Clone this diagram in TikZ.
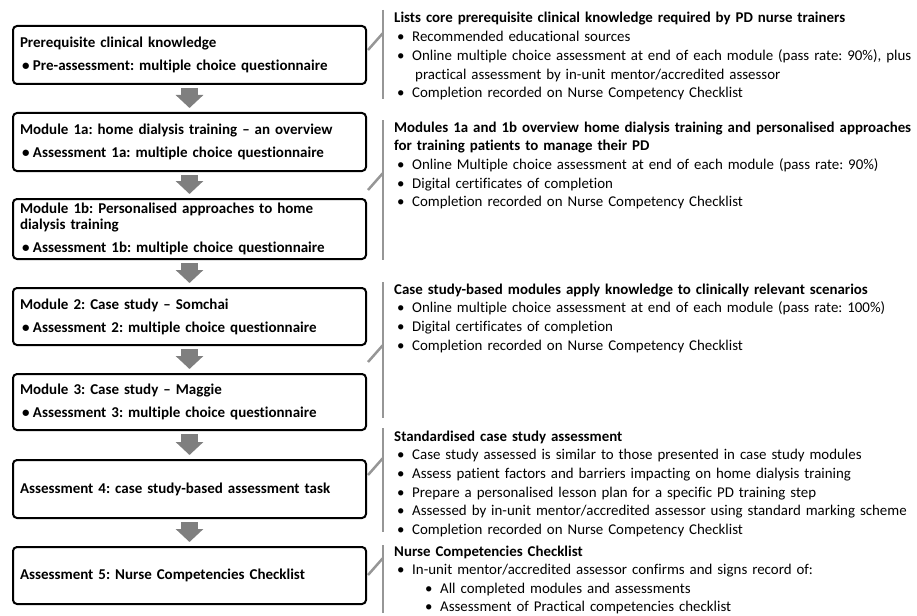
\documentclass[tikz,border=0pt]{standalone}
\usepackage{fontspec}
\setmainfont{Carlito}[Ligatures={TeX,NoCommon}]
\usetikzlibrary{arrows.meta}
\frenchspacing
\definecolor{arrowgrey}{RGB}{127,127,127}
\definecolor{bracketgrey}{RGB}{150,150,150}
\tikzset{
  stagebox/.style={draw, line width=2pt, rounded corners=4pt, anchor=north west,
    minimum width=353pt, text width=339pt, inner xsep=7pt, inner ysep=0pt,
    align=left, font=\fontsize{15}{16.5}\selectfont\bfseries},
  flowarrow/.style={arrowgrey, line width=17pt,
    -{Triangle[width=27pt,length=13pt]}, shorten <=3pt, shorten >=4pt},
  bracketline/.style={bracketgrey, line width=2.5pt},
  notetext/.style={anchor=base west, inner sep=0pt, text width=540pt,
    align=left, font=\fontsize{14.9}{18.7}\selectfont},
}
\newcommand{\boxbul}{\hspace*{2pt}\makebox[11pt][l]{•}}
\newcommand{\notebul}{\hspace*{3pt}\makebox[15pt][l]{•}}
\newcommand{\subbul}{\hspace*{31pt}\makebox[15pt][l]{•}}
\begin{document}
\begin{tikzpicture}[x=1pt,y=-1pt]
  \useasboundingbox (0,0) rectangle (917,615);
  %% stages
  \node[stagebox, minimum height=58pt] (prereq) at (12,25)
    {Prerequisite clinical knowledge\\[6.5pt]\boxbul Pre-assessment: multiple choice questionnaire};
  \node[stagebox, minimum height=58pt] (mod1a) at (12,112)
    {Module 1a: home dialysis training – an overview\\[6.5pt]\boxbul Assessment 1a: multiple choice questionnaire};
  \node[stagebox, minimum height=60pt] (mod1b) at (12,198)
    {Module 1b: Personalised approaches to home\\dialysis training\\[6.5pt]\boxbul Assessment 1b: multiple choice questionnaire};
  \node[stagebox, minimum height=57pt] (mod2) at (12,287)
    {Module 2: Case study – Somchai\\[6.5pt]\boxbul Assessment 2: multiple choice questionnaire};
  \node[stagebox, minimum height=56pt] (mod3) at (12,373)
    {Module 3: Case study – Maggie\\[6.5pt]\boxbul Assessment 3: multiple choice questionnaire};
  \node[stagebox, minimum height=58pt] (assess4) at (12,459)
    {Assessment 4: case study-based assessment task};
  \node[stagebox, minimum height=57pt] (assess5) at (12,546)
    {Assessment 5: Nurse Competencies Checklist};
  %% arrows down
  \foreach \a/\b in {prereq/mod1a, mod1a/mod1b, mod1b/mod2, mod2/mod3, mod3/assess4, assess4/assess5}
    \draw[flowarrow] (\a) -- (\b);
  %% brackets
  \foreach \i/\top/\bot/\foot in {1/10/99/50, 2/120/260/190, 3/282/418/362, 4/428/532/475, 5/545/613/575}{
    \coordinate (btop\i) at (383,\top);
    \coordinate (bbot\i) at (383,\bot);
    \coordinate (bfoot\i) at (368,\foot);
    \coordinate (bjoin\i) at (383,\foot-17);
    \draw[bracketline] (btop\i) -- (bbot\i);
    \draw[bracketline] (bfoot\i) -- (bjoin\i);
  }
  %% notes
  \node[notetext] (note1) at (394,23)
    {\textbf{Lists core prerequisite clinical knowledge required by PD nurse trainers}\\
     \notebul Recommended educational sources\\
     \notebul Online multiple choice assessment at end of each module (pass rate: 90\%), plus\\
     \hspace*{21pt}practical assessment by in-unit mentor/accredited assessor\\
     \notebul Completion recorded on Nurse Competency Checklist};
  \node[notetext] (note2) at (394,132)
    {\textbf{Modules 1a and 1b overview home dialysis training and personalised approaches}\\
     \textbf{for training patients to manage their PD}\\
     \notebul Online Multiple choice assessment at end of each module (pass rate: 90\%)\\
     \notebul Digital certificates of completion\\
     \notebul Completion recorded on Nurse Competency Checklist};
  \node[notetext] (note3) at (394,294)
    {\textbf{Case study-based modules apply knowledge to clinically relevant scenarios}\\
     \notebul Online multiple choice assessment at end of each module (pass rate: 100\%)\\
     \notebul Digital certificates of completion\\
     \notebul Completion recorded on Nurse Competency Checklist};
  \node[notetext] (note4) at (394,441)
    {\textbf{Standardised case study assessment}\\
     \notebul Case study assessed is similar to those presented in case study modules\\
     \notebul Assess patient factors and barriers impacting on home dialysis training\\
     \notebul Prepare a personalised lesson plan for a specific PD training step\\
     \notebul Assessed by in-unit mentor/accredited assessor using standard marking scheme\\
     \notebul Completion recorded on Nurse Competency Checklist};
  \node[notetext, font=\fontsize{14.9}{18.4}\selectfont] (note5) at (394,556.5)
    {\textbf{Nurse Competencies Checklist}\\
     \notebul In-unit mentor/accredited assessor confirms and signs record of:\\
     \subbul All completed modules and assessments\\
     \subbul Assessment of Practical competencies checklist};
\end{tikzpicture}
\end{document}
